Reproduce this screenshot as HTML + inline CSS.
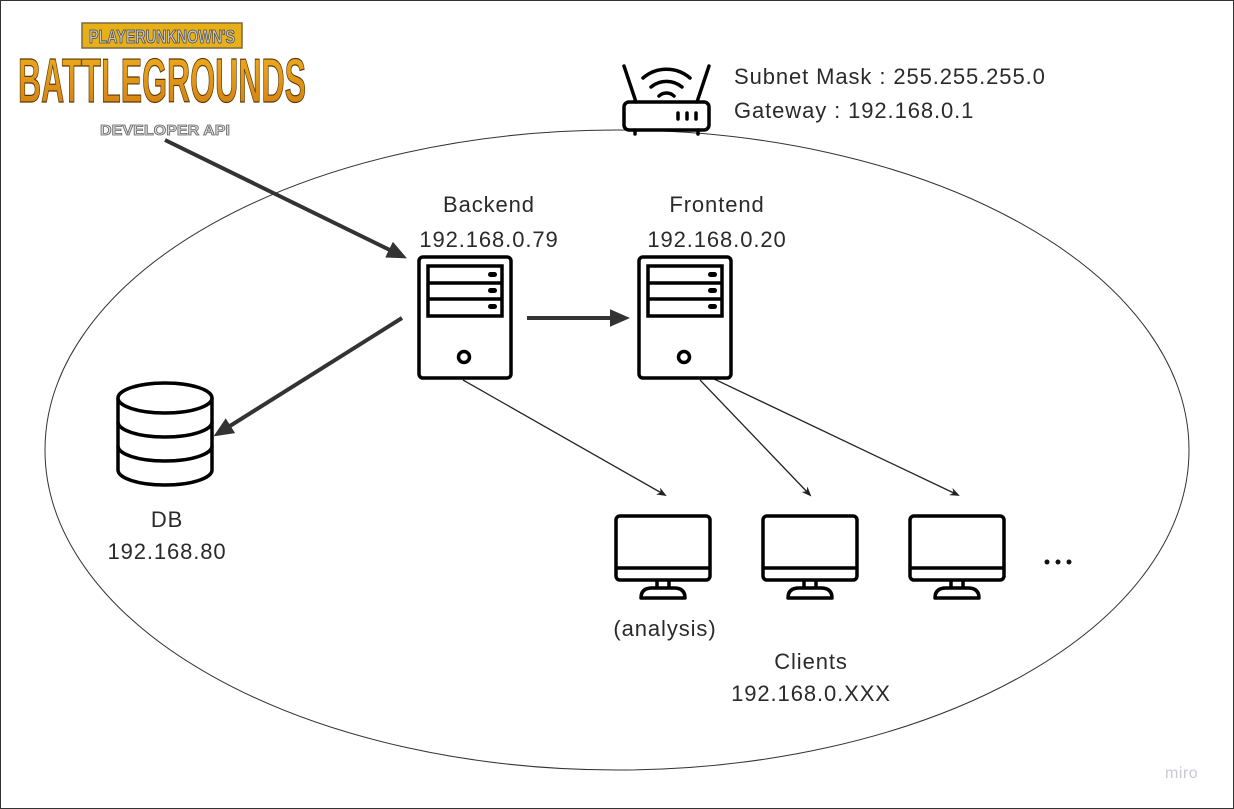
<!DOCTYPE html>
<html><head><meta charset="utf-8"><style>
html,body{margin:0;padding:0;background:#fff}
body{width:1234px;height:809px;position:relative;overflow:hidden;font-family:"Liberation Sans",sans-serif}
.frame{position:absolute;left:0;top:0;width:1232px;height:807px;border:1px solid #333}
.t{position:absolute;font-size:22px;letter-spacing:0.9px;color:#2a2a2a;text-align:center;line-height:30px;white-space:nowrap}
</style></head><body>
<div class="frame"></div>
<svg width="1234" height="809" style="position:absolute;left:0;top:0">
<defs>
<marker id="ah" markerWidth="5" markerHeight="5" refX="2.5" refY="2.5" orient="auto" markerUnits="strokeWidth"><path d="M0,0.3 L5,2.5 L0,4.7 Z" fill="#333"/></marker>
<marker id="as" markerWidth="10" markerHeight="8" refX="8" refY="4" orient="auto" markerUnits="userSpaceOnUse"><path d="M0,0 L10,4 L0,8 L3,4 Z" fill="#222"/></marker>
<linearGradient id="g" x1="0" y1="0" x2="0" y2="1"><stop offset="0" stop-color="#f0b020"/><stop offset="1" stop-color="#d07a10"/></linearGradient>
</defs>
<ellipse cx="617" cy="450" rx="572" ry="320" fill="none" stroke="#333" stroke-width="1"/>
<!-- logo -->
<rect x="82" y="23" width="160" height="25" fill="#e8b018" stroke="#7a6a40" stroke-width="1.5"/>
<text x="162" y="43" text-anchor="middle" font-family="Liberation Sans" font-weight="bold" font-size="18" fill="#c8c8c8" stroke="#444" stroke-width="0.8" textLength="146" lengthAdjust="spacingAndGlyphs">PLAYERUNKNOWN'S</text>
<text x="162" y="102" text-anchor="middle" font-family="Liberation Sans" font-weight="bold" font-size="62" fill="url(#g)" stroke="#5b3a08" stroke-width="1.2" textLength="288" lengthAdjust="spacingAndGlyphs">BATTLEGROUNDS</text>
<text x="165" y="135" text-anchor="middle" font-family="Liberation Sans" font-weight="bold" font-size="15" fill="#ddd" stroke="#666" stroke-width="0.8" textLength="130" lengthAdjust="spacingAndGlyphs">DEVELOPER API</text>
<!-- thick arrows -->
<line x1="165" y1="140" x2="398" y2="254" stroke="#333" stroke-width="4" marker-end="url(#ah)"/>
<line x1="402" y1="318" x2="222" y2="431" stroke="#333" stroke-width="4" marker-end="url(#ah)"/>
<line x1="527" y1="318" x2="620" y2="318" stroke="#333" stroke-width="4" marker-end="url(#ah)"/>
<!-- thin arrows -->
<line x1="463" y1="380" x2="665" y2="495" stroke="#222" stroke-width="1.3" marker-end="url(#as)"/>
<line x1="700" y1="380" x2="810" y2="495" stroke="#222" stroke-width="1.3" marker-end="url(#as)"/>
<line x1="712" y1="378" x2="958" y2="495" stroke="#222" stroke-width="1.3" marker-end="url(#as)"/>
<!-- servers -->
<g fill="none" stroke="#000" stroke-width="3.5">
<rect x="419" y="257" width="92" height="121" rx="4"/>
<rect x="428" y="266" width="74" height="50"/>
<line x1="428" y1="283" x2="502" y2="283"/><line x1="428" y1="299" x2="502" y2="299"/>
<circle cx="464" cy="357" r="5.5"/>
<rect x="639" y="257" width="92" height="121" rx="4"/>
<rect x="648" y="266" width="74" height="50"/>
<line x1="648" y1="283" x2="722" y2="283"/><line x1="648" y1="299" x2="722" y2="299"/>
<circle cx="684" cy="357" r="5.5"/>
</g>
<g fill="#000"><rect x="488" y="272" width="9" height="5" rx="2.5"/><rect x="488" y="288" width="9" height="5" rx="2.5"/><rect x="488" y="304" width="9" height="5" rx="2.5"/>
<rect x="708" y="272" width="9" height="5" rx="2.5"/><rect x="708" y="288" width="9" height="5" rx="2.5"/><rect x="708" y="304" width="9" height="5" rx="2.5"/></g>
<!-- DB -->
<g fill="none" stroke="#000" stroke-width="3.5">
<ellipse cx="165" cy="398" rx="47" ry="15"/>
<path d="M118,398 V470 A47,15 0 0 0 212,470 V398"/>
<path d="M118,422 A47,15 0 0 0 212,422"/>
<path d="M118,446 A47,15 0 0 0 212,446"/>
</g>
<!-- router -->
<g fill="none" stroke="#000" stroke-width="3.5" stroke-linecap="round">
<rect x="624" y="102" width="85" height="28" rx="5"/>
<line x1="636" y1="102" x2="624" y2="66"/><line x1="697" y1="102" x2="709" y2="66"/>
<path d="M643,78 A36,36 0 0 1 690,78"/>
<path d="M651,87 A24,24 0 0 1 682,87"/>
<path d="M659,96 A11,11 0 0 1 674,96"/>
<line x1="635" y1="130" x2="635" y2="134"/><line x1="698" y1="130" x2="698" y2="134"/>
<line x1="678" y1="113" x2="678" y2="119"/><line x1="687" y1="113" x2="687" y2="119"/><line x1="696" y1="113" x2="696" y2="119"/>
</g>
<!-- monitors -->
<g fill="none" stroke="#000" stroke-width="3.5" stroke-linejoin="round">
<g id="m"><rect x="616" y="516" width="94" height="64" rx="4"/><line x1="616" y1="568" x2="710" y2="568"/>
<path d="M657,580 V588 M669,580 V588 M641,598 Q641,588 652,588 H674 Q685,588 685,598 Z"/></g>
<use href="#m" x="147"/><use href="#m" x="294"/>
</g>
<g fill="#111"><circle cx="1047" cy="562" r="2.5"/><circle cx="1058" cy="562" r="2.5"/><circle cx="1069" cy="562" r="2.5"/></g>
</svg>
<div class="t" style="left:734px;top:62px;text-align:left">Subnet Mask : 255.255.255.0</div>
<div class="t" style="left:734px;top:96px;text-align:left">Gateway : 192.168.0.1</div>
<div class="t" style="left:389px;top:190px;width:200px">Backend</div>
<div class="t" style="left:389px;top:225px;width:200px">192.168.0.79</div>
<div class="t" style="left:617px;top:190px;width:200px">Frontend</div>
<div class="t" style="left:617px;top:225px;width:200px">192.168.0.20</div>
<div class="t" style="left:67px;top:505px;width:200px">DB</div>
<div class="t" style="left:67px;top:537px;width:200px">192.168.80</div>
<div class="t" style="left:565px;top:614px;width:200px">(analysis)</div>
<div class="t" style="left:711px;top:647px;width:200px">Clients</div>
<div class="t" style="left:711px;top:679px;width:200px">192.168.0.XXX</div>
<div class="t" style="left:1165px;top:760px;font-size:16px;letter-spacing:0.5px;color:#c8c8d4;line-height:28px">miro</div>
</body></html>
